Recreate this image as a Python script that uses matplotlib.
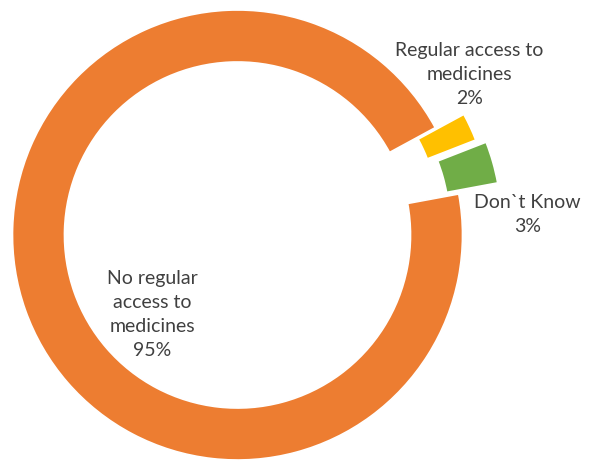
import matplotlib
matplotlib.use("Agg")
import matplotlib.pyplot as plt

# Survey shares
categories = ["Regular access to\nmedicines", "Don`t Know", "No regular\naccess to\nmedicines"]
values = [2, 3, 95]
colors = ["#FFC000", "#70AD47", "#ED7D31"]
explode = [0.14, 0.18, 0.0]

# label anchor points (data units, radius = 1)
label_pos = [(1.03, 0.715), (1.29, 0.09), (-0.38, -0.355)]

W, H = 589, 461
cx, cy, R = 237.5, 235.0, 225.0

fig = plt.figure(figsize=(W / 100, H / 100), dpi=100)
ax = fig.add_axes([0, 0, 1, 1])

wedges, _ = ax.pie(
    values,
    colors=colors,
    explode=explode,
    startangle=28.5,
    counterclock=False,
    radius=1.0,
    wedgeprops=dict(width=0.231, edgecolor="white", linewidth=1.2),
)

ax.set_xlim(-cx / R, (W - cx) / R)
ax.set_ylim(-(H - cy) / R, cy / R)
ax.set_aspect("equal")
ax.axis("off")

for name, v, (x, y) in zip(categories, values, label_pos):
    ax.text(x, y, f"{name}\n{v}%", ha="center", va="center",
            fontsize=14, color="#404040", family="Lato", linespacing=1.5)

fig.savefig("out.png", dpi=100)
